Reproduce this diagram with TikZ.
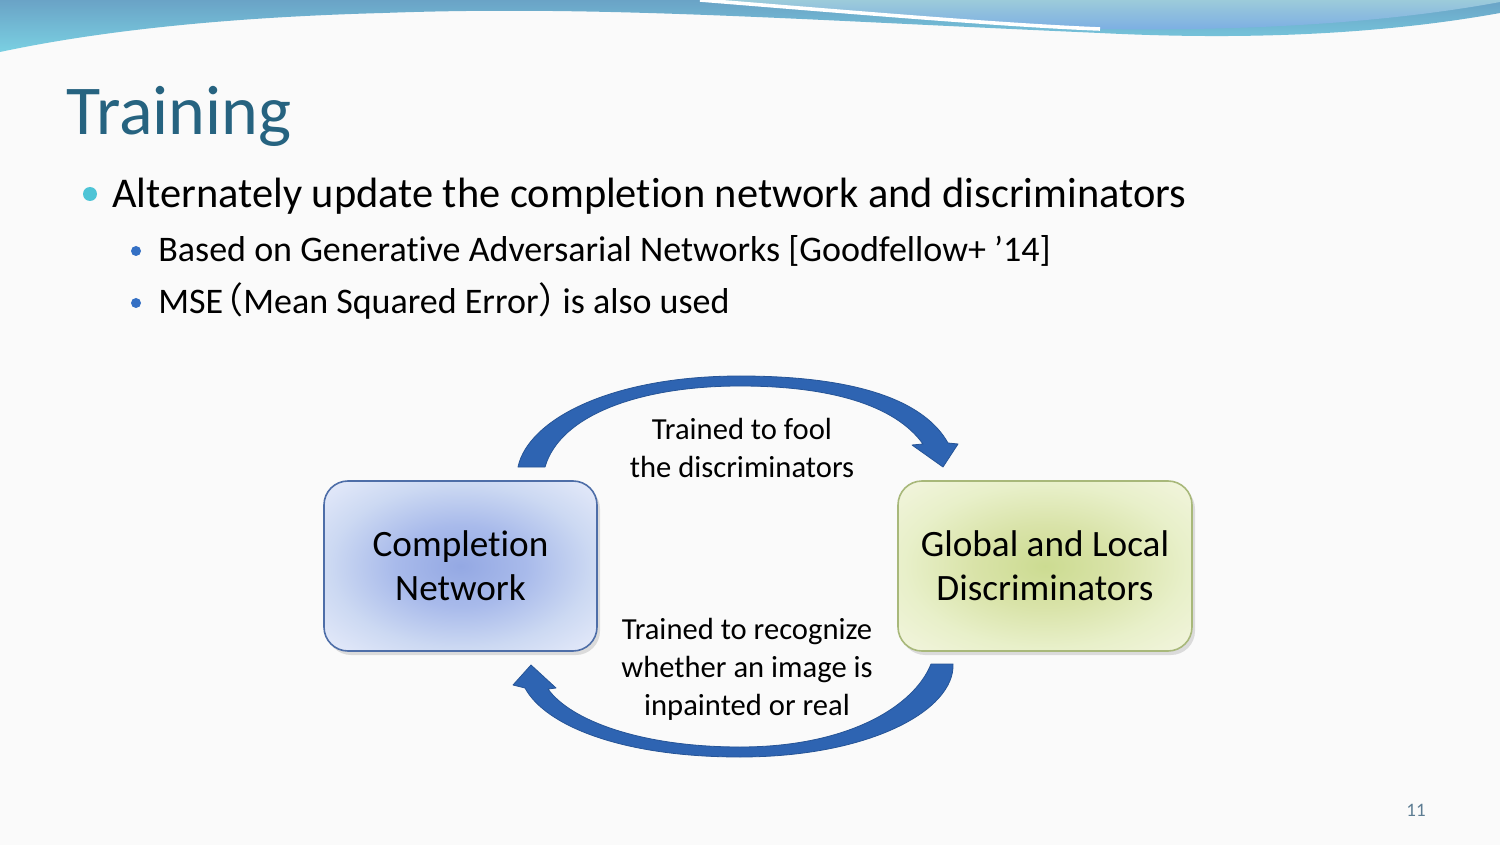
\documentclass[tikz,border=0pt]{standalone}
\usepackage{fontspec}
\setmainfont{Carlito}[Ligatures=NoCommon]
\newfontfamily\cjkfont{Noto Sans CJK JP}
\usetikzlibrary{shadows}

\definecolor{pagebg}{RGB}{250,250,250}
\definecolor{titleteal}{RGB}{38,99,128}
\definecolor{dotcyan}{RGB}{78,196,214}
\definecolor{dotblue}{RGB}{52,112,196}
\definecolor{arrowblue}{RGB}{46,100,178}
\definecolor{arrowedge}{RGB}{38,84,150}
\definecolor{netedge}{RGB}{78,110,168}
\definecolor{discedge}{RGB}{168,184,122}
\definecolor{wavetop}{RGB}{106,163,198}
\definecolor{wavebot}{RGB}{122,208,226}
\definecolor{wavelighttop}{RGB}{156,203,218}
\definecolor{wavelightbot}{RGB}{122,172,228}
\definecolor{pagenum}{RGB}{92,124,146}

% soft glow inside the boxes
\pgfdeclareradialshading{netglow}{\pgfpoint{0bp}{0bp}}{%
	rgb(0bp)=(0.58,0.66,0.89); rgb(12bp)=(0.66,0.73,0.92);
	rgb(24bp)=(0.80,0.85,0.95); rgb(35bp)=(0.90,0.92,0.98);
	rgb(50bp)=(0.94,0.95,0.99)}
\pgfdeclareradialshading{discglow}{\pgfpoint{0bp}{0bp}}{%
	rgb(0bp)=(0.80,0.86,0.57); rgb(12bp)=(0.85,0.89,0.66);
	rgb(24bp)=(0.91,0.94,0.79); rgb(35bp)=(0.95,0.96,0.87);
	rgb(50bp)=(0.97,0.98,0.91)}

\begin{document}
\begin{tikzpicture}[x=0.5pt, y=-0.5pt,
	netbox/.style={draw, line width=0.8pt, rounded corners=12pt, align=center,
		minimum height=85pt, font=\fontsize{18.6}{22}\selectfont,
		drop shadow={shadow xshift=1.5pt, shadow yshift=-2pt, opacity=0.25}},
	lbl/.style={align=center, font=\fontsize{15.3}{19}\selectfont},
	item/.style={anchor=base west, inner sep=0pt},
	bigarrow/.style={fill=arrowblue, draw=arrowedge, line width=0.4pt, line join=round},
	dot/.style={circle, inner sep=0pt}]
	\useasboundingbox (0,0) rectangle (1500,845);
	\fill[pagebg] (0,0) rectangle (1500,845);
	% wave at the top
	\shade[top color=wavetop, bottom color=wavebot] (0,0) -- (1500,0) -- (1500,13)
		.. controls (1350,40) and (1200,38) .. (1100,33)
		.. controls (800,20) and (600,5) .. (383,13)
		.. controls (200,18) and (80,35) .. (0,52) -- cycle;
	\shade[top color=wavelighttop, bottom color=wavelightbot] (700,0)
		.. controls (850,12) and (1000,25) .. (1100,29)
		.. controls (1300,32) and (1430,15) .. (1500,2) -- (1500,0) -- cycle;
	\draw[white, line width=1.8pt] (700,0) .. controls (850,12) and (1000,25) .. (1100,29);
	% title and bullets
	\node[item, text=titleteal, font=\fontsize{35}{40}\selectfont] (title) at (66,135) {Training};
	\node[dot, fill=dotcyan, minimum size=7pt] (dot1) at (90,194) {};
	\node[item, font=\fontsize{21.2}{25}\selectfont] (item1) at (112,208)
		{Alternately update the completion network and discriminators};
	\node[dot, fill=dotblue, minimum size=5pt] (dot2) at (136,251) {};
	\node[item, font=\fontsize{18}{22}\selectfont] (item2) at (158,262)
		{Based on Generative Adversarial Networks [Goodfellow+ ’14]};
	\node[dot, fill=dotblue, minimum size=5pt] (dot3) at (136,303) {};
	\node[item, font=\fontsize{18}{22}\selectfont] (item3) at (158,314)
		{MSE\kern-8pt{\cjkfont（}Mean Squared Error{\cjkfont）}\kern-6pt is also used};
	% the two networks
	\node[netbox, draw=netedge, shade, shading=netglow, minimum width=136.5pt]
		(completion) at (460.5,566) {Completion\\Network};
	\node[netbox, draw=discedge, shade, shading=discglow, minimum width=147pt]
		(discriminators) at (1045,566) {Global and Local\\Discriminators};
	% curved arrows
	\filldraw[bigarrow] (518,467) .. controls (528,420) and (610,376) .. (740,376)
		.. controls (860,376) and (925,402) .. (948,443) -- (958,444) -- (943,467)
		-- (912,445) -- (923,444) .. controls (895,405) and (830,386) .. (740,386)
		.. controls (640,386) and (560,415) .. (545,467) -- cycle;
	\filldraw[bigarrow] (953,664) .. controls (955,710) and (870,757) .. (740,757)
		.. controls (620,757) and (545,725) .. (525,688) -- (513,685) -- (531,665)
		-- (556,688) -- (548,689) .. controls (570,720) and (640,747) .. (740,747)
		.. controls (850,747) and (915,705) .. (931,664) -- cycle;
	\node[lbl] (fool) at (742,448) {Trained to fool\\the discriminators};
	\node[lbl] (recognize) at (747,669) {Trained to recognize\\whether an image is\\inpainted or real};
	% page number
	\node[text=pagenum, font=\fontsize{9.5}{11}\selectfont] (pageno) at (1416,810) {11};
\end{tikzpicture}
\end{document}
